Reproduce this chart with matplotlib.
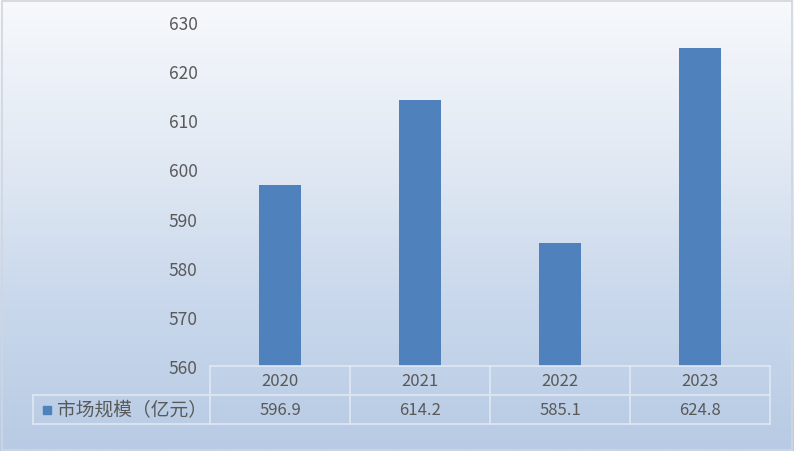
import matplotlib
matplotlib.use("Agg")
import matplotlib.pyplot as plt
import numpy as np
from matplotlib.lines import Line2D
from matplotlib.colors import LinearSegmentedColormap

plt.rcParams['font.family'] = ['Noto Sans CJK SC', 'DejaVu Sans']

categories = ['2020', '2021', '2022', '2023']
values = [596.9, 614.2, 585.1, 624.8]
value_labels = ['596.9', '614.2', '585.1', '624.8']
series_name = '市场规模（亿元）'
yticks = [560, 570, 580, 590, 600, 610, 620, 630]

W, H = 794, 452
fig = plt.figure(figsize=(W / 100, H / 100), dpi=100)

# gradient background
bg = fig.add_axes([0, 0, 1, 1], zorder=-10)
cmap = LinearSegmentedColormap.from_list('g', ['#F7F9FC', '#E3EAF4', '#C9D8EC', '#B8CBE4'])
grad = np.linspace(0, 1, 256).reshape(-1, 1)
bg.imshow(grad, aspect='auto', cmap=cmap, extent=[0, 1, 0, 1], origin='upper')
bg.set_xlim(0, 1); bg.set_ylim(0, 1)
bg.axis('off')
bg.add_patch(plt.Rectangle((0.002, 0.002), 0.996, 0.993, fill=False, ec='#D0D6DE', lw=1.2))

def fx(px):
    return px / W

def fy(py):
    return 1 - py / H

ax_l, ax_r, ax_t, ax_b = 210, 770, 23, 367
ax = fig.add_axes([fx(ax_l), fy(ax_b), (ax_r - ax_l) / W, (ax_b - ax_t) / H])
ax.patch.set_alpha(0)
x = np.arange(len(categories))
ax.bar(x, [v - 560 for v in values], bottom=560, width=0.3, color='#4F81BD', zorder=3)
ax.set_xlim(-0.5, len(categories) - 0.5)
ax.set_ylim(560, 630)
ax.set_yticks(yticks)
ax.set_yticklabels([str(t) for t in yticks], fontsize=12.5, color='#595959')
ax.tick_params(axis='y', length=0, pad=9)
ax.set_xticks([])
for s in ax.spines.values():
    s.set_visible(False)

# data table
line_c = '#E0E8F2'
row1_top, row1_bot, row2_bot = 367, 396, 425
leg_left = 33
col_w = (ax_r - ax_l) / len(categories)

def hline(y, x0, x1):
    fig.add_artist(Line2D([fx(x0), fx(x1)], [fy(y), fy(y)], color=line_c, lw=1.2))

def vline(xp, y0, y1):
    fig.add_artist(Line2D([fx(xp), fx(xp)], [fy(y0), fy(y1)], color=line_c, lw=1.2))

hline(row1_top, ax_l, ax_r)
hline(row1_bot, leg_left, ax_r)
hline(row2_bot, leg_left, ax_r)
vline(leg_left, row1_bot, row2_bot)
for i in range(len(categories) + 1):
    vline(ax_l + i * col_w, row1_top, row2_bot)

for i, (c, vl) in enumerate(zip(categories, value_labels)):
    cx = ax_l + (i + 0.5) * col_w
    fig.text(fx(cx), fy((row1_top + row1_bot) / 2), c, ha='center', va='center',
             fontsize=12, color='#595959')
    fig.text(fx(cx), fy((row1_bot + row2_bot) / 2), vl, ha='center', va='center',
             fontsize=12, color='#595959')

# legend key
fig.add_artist(plt.Rectangle((fx(43), fy(415)), 8 / W, 8 / H, transform=fig.transFigure,
                             color='#4F81BD'))
fig.text(fx(57), fy((row1_bot + row2_bot) / 2), series_name, ha='left', va='center',
         fontsize=13.5, color='#595959')

fig.savefig('out.png', dpi=100)
